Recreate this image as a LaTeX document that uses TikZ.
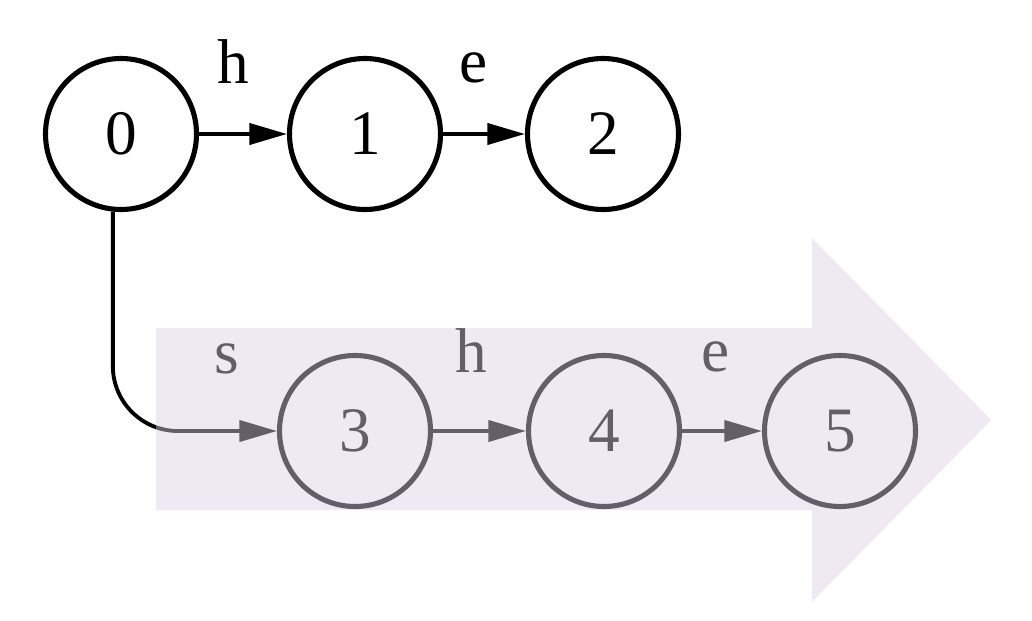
\documentclass[tikz,border=0pt]{standalone}
\usepackage{fontspec}
\setmainfont{Liberation Serif}
\usetikzlibrary{arrows.meta}
\definecolor{veil}{RGB}{217,206,228}

\begin{document}
\begin{tikzpicture}[x=1cm,y=1cm,>={Triangle[length=7.5mm,width=4.2mm]},
                    font=\fontsize{36}{40}\selectfont,
                    st/.style={circle,draw,line width=2.9pt,minimum size=3.02cm,inner sep=0pt},
                    lbl/.style={anchor=south,inner sep=0pt},
                    tr/.style={line width=2.2pt,->}]
  \useasboundingbox (0,0) rectangle (20.64,12.4);
  % upper chain
  \node[st] (n0) at (2.42,9.72) {0};
  \node[st] (n1) at (7.30,9.72) {1};
  \node[st] (n2) at (12.06,9.72) {2};
  \draw[tr] (n0) -- node[lbl,above=0.97cm,xshift=-0.2cm] (l01) {h} (n1);
  \draw[tr] (n1) -- node[lbl,above=0.97cm,xshift=-0.2cm] (l12) {e} (n2);
  % lower chain, reached from 0 by s
  \node[st] (n3) at (7.10,3.78) {3};
  \node[st] (n4) at (12.08,3.78) {4};
  \node[st] (n5) at (16.80,3.78) {5};
  \draw[tr,rounded corners=1.3cm] (n0.-96) |- (n3);
  \node[lbl] (l03) at (4.54,4.91) {s};
  \draw[tr] (n3) -- node[lbl,above=1.13cm,xshift=-0.16cm] (l34) {h} (n4);
  \draw[tr] (n4) -- node[lbl,above=1.13cm,xshift=-0.12cm] (l45) {e} (n5);
  % highlight arrow laid over the lower chain
  \fill[veil,fill opacity=0.46] (3.12,2.2) -- (16.24,2.2) -- (16.24,0.36) -- (19.82,4.0)
    -- (16.24,7.64) -- (16.24,5.84) -- (3.12,5.84) -- cycle;
\end{tikzpicture}
\end{document}
